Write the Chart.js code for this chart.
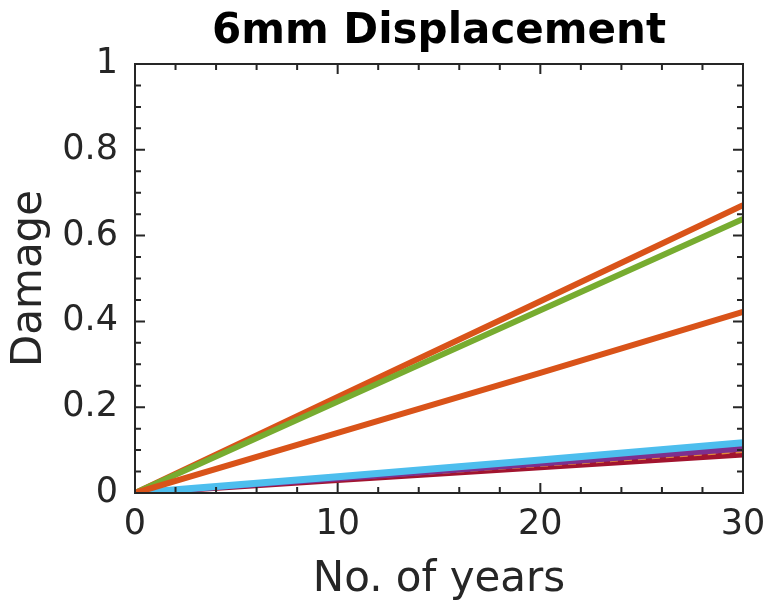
<!DOCTYPE html>
<html>
<head>
<meta charset="utf-8">
<script src="https://cdn.jsdelivr.net/npm/chart.js@4"></script>
<style>
  html, body { margin: 0; padding: 0; background: #fff; }
  #wrap { width: 770px; height: 607px; }
</style>
</head>
<body>
<div id="wrap"><canvas id="dmg-chart"></canvas></div>
<script>
const years = [0, 10, 20, 30];

// damage at 0, 10, 20, 30 years
const orangeTop = [0, 0.224, 0.447, 0.671];
const green     = [0, 0.213, 0.426, 0.639];
const orangeLow = [0, 0.140, 0.280, 0.422];
const cyan      = [0, 0.038, 0.077, 0.117];
const purple    = [0, 0.034, 0.069, 0.104];
const dashed    = [0, 0.032, 0.064, 0.097];
const darkRed   = [0, 0.030, 0.060, 0.090];

const xTicks = [0, 10, 20, 30];
const yTicks = [0, 0.2, 0.4, 0.6, 0.8, 1];

const chartTitle = '6mm Displacement';
const txt = '#262626';
const font = 'DejaVu Sans';

const pts = vals => vals.map((v, i) => ({ x: years[i], y: v }));

const serie = (vals, color, width, dash) => ({
    data: pts(vals),
    borderColor: color,
    backgroundColor: color,
    borderWidth: width,
    borderDash: dash || [],
    pointRadius: 0,
    tension: 0,
    fill: false
});

// title centred over the axes box, like matlab does
const boxTitle = {
    id: 'boxTitle',
    afterDraw(chart) {
        const c = chart.ctx, a = chart.chartArea;
        c.save();
        c.fillStyle = '#000';
        c.font = 'bold 42px "' + font + '"';
        c.textAlign = 'center';
        c.textBaseline = 'middle';
        c.fillText(chartTitle, (a.left + a.right) / 2, 32);
        c.restore();
    }
};

// box round the axes with inward ticks
const boxTicks = {
    id: 'boxTicks',
    afterDatasetsDraw(chart) {
        const c = chart.ctx;
        const a = chart.chartArea;
        const xs = chart.scales.x, ys = chart.scales.y;
        c.save();
        c.strokeStyle = txt;
        c.lineWidth = 2;
        c.strokeRect(a.left, a.top, a.right - a.left, a.bottom - a.top);
        c.beginPath();
        for (let v = 0; v <= 30; v += 2) {
            const px = xs.getPixelForValue(v);
            const len = (v % 10 === 0) ? 10 : 6;
            c.moveTo(px, a.bottom); c.lineTo(px, a.bottom - len);
            c.moveTo(px, a.top);    c.lineTo(px, a.top + len);
        }
        for (let k = 0; k <= 20; k++) {
            const py = ys.getPixelForValue(k * 0.05);
            const len = (k % 4 === 0) ? 10 : 6;
            c.moveTo(a.left, py);  c.lineTo(a.left + len, py);
            c.moveTo(a.right, py); c.lineTo(a.right - len, py);
        }
        c.stroke();
        c.restore();
    }
};

new Chart(document.getElementById('dmg-chart'), {
    type: 'line',
    data: {
        datasets: [
            serie(orangeLow, '#D95319', 6),
            serie(green, '#77AC30', 6),
            serie(orangeTop, '#D95319', 6),
            serie(cyan, '#4DBEEE', 7),
            serie(purple, '#7E2F8E', 6),
            serie(dashed, '#E0883A', 3, [8, 6]),
            serie(darkRed, '#A2142F', 6)
        ]
    },
    options: {
        responsive: true,
        maintainAspectRatio: false,
        animation: false,
        layout: { padding: { left: 0, right: 27, top: 64, bottom: 0 } },
        plugins: {
            legend: { display: false },
            tooltip: { enabled: false },
            title: { display: false }
        },
        scales: {
            x: {
                type: 'linear',
                min: 0, max: 30,
                afterBuildTicks: s => { s.ticks = xTicks.map(v => ({ value: v })); },
                afterFit: s => { s.height = 114; s.paddingLeft = 0; s.paddingRight = 0; },
                grid: { display: false, drawTicks: false },
                border: { display: false },
                ticks: { color: txt, font: { family: font, size: 35 }, padding: 11, maxRotation: 0 },
                title: {
                    display: true,
                    text: 'No. of years',
                    color: txt,
                    font: { family: font, size: 42 },
                    padding: { top: 0, bottom: 2 }
                }
            },
            y: {
                min: 0, max: 1,
                afterBuildTicks: s => { s.ticks = yTicks.map(v => ({ value: v })); },
                afterFit: s => { s.width = 135; s.paddingTop = 0; s.paddingBottom = 0; },
                grid: { display: false, drawTicks: false },
                border: { display: false },
                ticks: {
                    color: txt,
                    font: { family: font, size: 35 },
                    padding: 17,
                    callback: v => String(v)
                },
                title: {
                    display: true,
                    text: 'Damage',
                    color: txt,
                    font: { family: font, size: 42 },
                    padding: { top: 5, bottom: 0 }
                }
            }
        }
    },
    plugins: [boxTicks, boxTitle]
});
</script>
</body>
</html>
